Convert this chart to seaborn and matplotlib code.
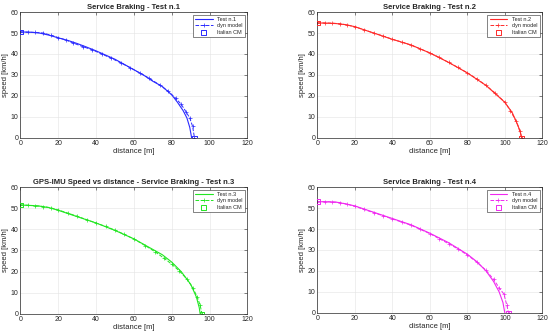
import numpy as np
import pandas as pd
import matplotlib
matplotlib.use('Agg')
import matplotlib.pyplot as plt
import seaborn as sns

# ── data ────────────────────────────────────────────────────
titles = ['Service Braking - Test n.1', 'Service Braking - Test n.2',
          'GPS-IMU Speed vs distance - Service Braking - Test n.3',
          'Service Braking - Test n.4']
labels = ['Test n.1', 'Test n.2', 'Test n.3', 'Test n.4']
colors = ['#2a2aff', '#ff2a2a', '#22e622', '#f028f0']

# test measurements (distance m, speed km/h)
test1_x = [0, 5, 10, 15, 20, 25, 30, 35, 40, 45, 50, 55, 60, 65, 70, 75, 80, 83, 86, 88, 89.5, 90.5]
test1_v = [50.5, 50.4, 50, 49, 47.7, 46.5, 45, 43.3, 41.5, 39.5, 37.5, 35, 32.5, 30, 27, 24.5, 20.5, 17, 13, 9.5, 5, 0]
dyn1_x = [0, 4, 8, 12, 16, 20, 24, 28, 33, 38, 43, 48, 53, 58, 63, 68, 74, 78, 82, 85, 87.5, 89.5, 91, 92]
dyn1_v = [50.5, 50.4, 50.3, 50, 49, 47.8, 46.7, 45.2, 43.5, 42, 40, 38, 35.8, 33.5, 31, 28.5, 25, 22.3, 19, 16, 12.5, 9.5, 5.5, 0]
cm1_x = [0, 92]
cm1_v = [50.5, 0]

test2_x = [0, 5, 10, 15, 20, 30, 40, 50, 60, 70, 80, 90, 95, 100, 104, 107, 108.5, 109]
test2_v = [54.8, 54.7, 54.5, 54, 53, 50, 47, 44.3, 40.5, 36, 31, 25, 21, 17, 12, 6, 2, 0]
dyn2_x = [0, 4, 8, 12, 16, 20, 25, 30, 35, 40, 45, 50, 55, 60, 65, 70, 75, 80, 85, 90, 95, 100, 103, 106, 108, 109]
dyn2_v = [54.8, 54.8, 54.7, 54.4, 53.8, 53, 51.5, 50, 48.6, 47, 45.7, 44.2, 42.4, 40.5, 38.4, 36, 33.6, 31, 28.2, 25, 21.3, 17, 13, 8, 3.5, 0]
cm2_x = [0, 109]
cm2_v = [54.8, 0]

test3_x = [0, 5, 10, 15, 20, 30, 40, 50, 60, 70, 75, 80, 85, 90, 93, 94.5, 95]
test3_v = [51.5, 51.3, 51, 50.3, 49, 46, 43, 39.5, 35.5, 30.5, 28, 24.5, 20, 14, 8, 3, 0]
dyn3_x = [0, 4, 8, 12, 16, 20, 25, 30, 35, 40, 45, 50, 55, 60, 66, 71, 76, 80, 84, 88, 91, 93.5, 95, 96]
dyn3_v = [51.5, 51.4, 51.2, 50.8, 50.2, 49.2, 47.7, 46.2, 44.6, 43, 41.4, 39.6, 37.6, 35.4, 32.3, 29.5, 26.3, 23.5, 20.3, 16.5, 12.5, 8, 4, 0]
cm3_x = [0, 96]
cm3_v = [51.5, 0]

test4_x = [0, 5, 10, 15, 20, 30, 40, 50, 60, 70, 80, 85, 90, 94, 97, 99, 100]
test4_v = [53, 53, 52.8, 52, 51, 48, 45, 42, 38, 33.5, 28, 24.5, 20, 15, 10, 5, 0]
dyn4_x = [0, 4, 8, 12, 16, 20, 25, 30, 35, 40, 45, 50, 55, 60, 65, 70, 75, 80, 85, 90, 94, 97, 99.5, 101, 102]
dyn4_v = [53, 53, 52.9, 52.6, 51.8, 50.8, 49.3, 47.8, 46.3, 44.8, 43.3, 41.8, 39.8, 37.8, 35.4, 33, 30.5, 27.6, 24.3, 20.3, 16, 12, 9, 4, 0]
cm4_x = [0, 102]
cm4_v = [53, 0]

tests = [(test1_x, test1_v), (test2_x, test2_v), (test3_x, test3_v), (test4_x, test4_v)]
dyns = [(dyn1_x, dyn1_v), (dyn2_x, dyn2_v), (dyn3_x, dyn3_v), (dyn4_x, dyn4_v)]
cms = [(cm1_x, cm1_v), (cm2_x, cm2_v), (cm3_x, cm3_v), (cm4_x, cm4_v)]

# ── figure ───────────────────────────────────────────────────
sns.set_style('whitegrid', {'grid.color': '#e3e3e3', 'axes.edgecolor': '#262626',
                            'xtick.direction': 'in', 'ytick.direction': 'in'})
plt.rcParams['font.family'] = ['Liberation Sans', 'DejaVu Sans']

fig = plt.figure(figsize=(5.5, 3.34), dpi=100)
positions = [[0.037, 0.587, 0.413, 0.377],
             [0.577, 0.587, 0.409, 0.377],
             [0.037, 0.060, 0.413, 0.380],
             [0.577, 0.063, 0.409, 0.377]]

for i in range(4):
    ax = fig.add_axes(positions[i])
    c = colors[i]
    tdf = pd.DataFrame({'distance': tests[i][0], 'speed': tests[i][1]})
    ddf = pd.DataFrame({'distance': dyns[i][0], 'speed': dyns[i][1]})
    cdf = pd.DataFrame({'distance': cms[i][0], 'speed': cms[i][1]})
    sns.lineplot(data=tdf, x='distance', y='speed', ax=ax, color=c, lw=0.8,
                 sort=False, label=labels[i])
    sns.lineplot(data=ddf, x='distance', y='speed', ax=ax, color=c, lw=0.7,
                 sort=False, linestyle='--', marker='+', markersize=2.6,
                 markeredgewidth=0.5, markeredgecolor=c, label='dyn model')
    sns.scatterplot(data=cdf, x='distance', y='speed', ax=ax, marker='s',
                    s=11, facecolor='none', edgecolor=c, linewidth=0.7,
                    label='Italian CM', zorder=5)
    ax.set_xlim(0, 120)
    ax.set_ylim(0, 60)
    ax.set_xticks(range(0, 121, 20))
    ax.set_yticks(range(0, 61, 10))
    ax.tick_params(labelsize=5, pad=1.5, length=2, width=0.4,
                   direction='in', top=True, right=True)
    ax.set_xlabel('distance [m]', fontsize=5.5, labelpad=1)
    ax.set_ylabel('speed [km/h]', fontsize=5.5, labelpad=1)
    ax.set_title(titles[i], fontsize=5.5, fontweight='bold', pad=2.5)
    for s in ax.spines.values():
        s.set_linewidth(0.5)
    ax.grid(True, lw=0.4)
    leg = ax.legend(loc='upper right', fontsize=4, frameon=True,
                    fancybox=False, borderpad=0.4, handlelength=3.2,
                    labelspacing=0.25, framealpha=1)
    leg.get_frame().set_edgecolor('#262626')
    leg.get_frame().set_linewidth(0.4)

plt.savefig('out.png', dpi=100)
